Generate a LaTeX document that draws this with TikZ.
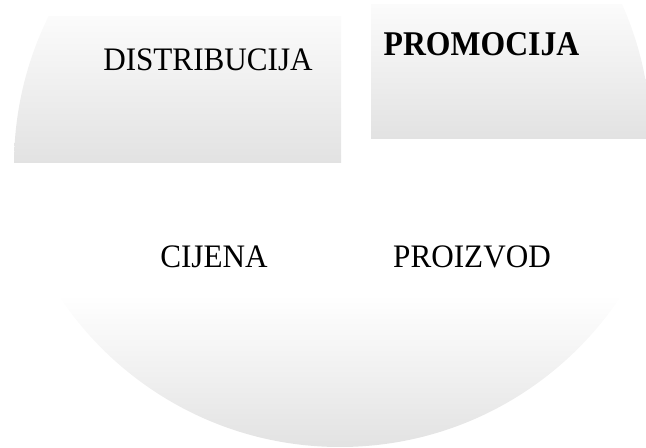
\documentclass[tikz,border=0pt]{standalone}
\usepackage{fontspec}
\setmainfont{Liberation Serif}
\newfontfamily\lblfont{Liberation Serif}[FakeStretch=0.95]
\newfontfamily\lblboldfont{Liberation Serif}[FakeStretch=0.915]
\definecolor{pieTop}{RGB}{251,251,251}
\definecolor{pieBot}{RGB}{226,226,226}
\tikzset{
  piece/.style={top color=pieTop,bottom color=pieBot,draw=none},
  lbl/.style={anchor=base,inner sep=0pt,font=\lblfont\fontsize{24.6pt}{29pt}\selectfont,text=black},
  lblbold/.style={anchor=base,inner sep=0pt,font=\lblboldfont\bfseries\fontsize{26pt}{31pt}\selectfont,text=black}
}
\begin{document}
\begin{tikzpicture}[x=0.75pt,y=-0.75pt]
\useasboundingbox (0,0) rectangle (646,448);
% top-left piece
\begin{scope}
  \clip (351,165) circle (337);
  \shade[piece] (0,17) rectangle (341,163);
\end{scope}
% top-right piece
\begin{scope}
  \clip (314,141) circle (337);
  \shade[piece] (371,5) rectangle (646,139);
\end{scope}
% bottom piece
\begin{scope}
  \clip (340,110) circle (337);
  \shade[top color=white,bottom color=pieBot] (0,295) rectangle (646,448);
\end{scope}
\node[lbl] (dist) at (208,71) {DISTRIBUCIJA};
\node[lblbold] (prom) at (481.5,56) {PROMOCIJA};
\node[lbl] (cij) at (214,268) {CIJENA};
\node[lbl] (proi) at (472,268) {PROIZVOD};
\end{tikzpicture}
\end{document}
